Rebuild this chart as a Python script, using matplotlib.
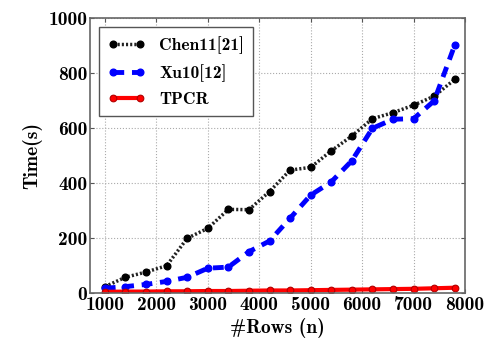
import matplotlib
matplotlib.use("Agg")
import matplotlib.pyplot as plt

# number of rows
rows = [1000, 1400, 1800, 2200, 2600, 3000, 3400, 3800, 4200,
        4600, 5000, 5400, 5800, 6200, 6600, 7000, 7400, 7800]

# running time in seconds
chen11 = [24, 58, 77, 100, 200, 236, 305, 304, 370,
          448, 458, 518, 572, 635, 657, 684, 717, 778]
xu10 = [18, 24, 32, 43, 58, 91, 95, 151, 190,
        273, 357, 405, 482, 600, 633, 635, 700, 903]
tpcr = [5, 6, 6, 7, 7, 8, 8, 9, 10,
        10, 11, 12, 13, 14, 15, 16, 18, 20]

xticks = [1000, 2000, 3000, 4000, 5000, 6000, 7000, 8000]
yticks = [0, 200, 400, 600, 800, 1000]

plt.rcParams['font.family'] = ['cmb10', 'DejaVu Serif']
plt.rcParams['axes.unicode_minus'] = False

fig = plt.figure(figsize=(4.89, 3.47), dpi=100)
ax = fig.add_axes([0.184, 0.155, 0.767, 0.792])

ax.plot(rows, chen11, color='#222222', linestyle=(0, (0.6, 0.6)), linewidth=2.5,
        marker='o', markersize=4.8, markerfacecolor='black',
        markeredgecolor='black', label='Chen11[21]')
ax.plot(rows, xu10, color='blue', linestyle=(0, (2.2, 1.6)), linewidth=3.5,
        marker='o', markersize=4.8, label='Xu10[12]')
ax.plot(rows, tpcr, color='red', linestyle='-', linewidth=3,
        marker='o', markersize=4.8, markeredgecolor='#b00000',
        markeredgewidth=0.8, label='TPCR')

ax.set_xlim(710, 8000)
ax.set_ylim(0, 1000)
ax.set_xticks(xticks)
ax.set_yticks(yticks)
ax.tick_params(axis='both', labelsize=14, direction='in', length=3,
               top=True, right=True, pad=2, color='#555555')
ax.grid(True, linestyle=':', color='#aaaaaa', linewidth=0.8)

for s in ax.spines.values():
    s.set_color('#666666')
    s.set_linewidth(1.2)

ax.set_xlabel('#Rows (n)', fontsize=14, labelpad=3)
ax.set_ylabel('Time(s)', fontsize=14, labelpad=4)

leg = ax.legend(loc='upper left', fontsize=12.5, handlelength=2.2,
                numpoints=2, fancybox=False, framealpha=1,
                borderaxespad=0.5, labelspacing=0.6, handletextpad=0.8,
                borderpad=0.5)
leg.get_frame().set_edgecolor('#555555')
leg.get_frame().set_linewidth(1.0)

fig.savefig('out.png', dpi=100)
